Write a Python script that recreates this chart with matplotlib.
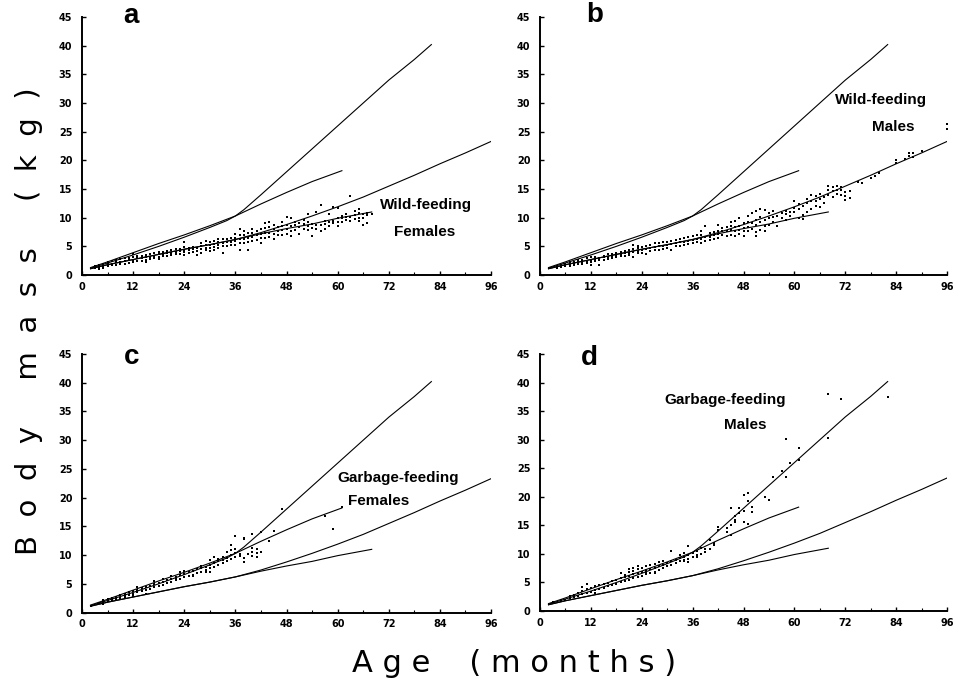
import numpy as np
import matplotlib
matplotlib.use("Agg")
import matplotlib.pyplot as plt
from matplotlib.ticker import MultipleLocator

plt.rcParams['font.family'] = ['Liberation Sans', 'DejaVu Sans']

# fitted growth curves (age in months, mass in kg), same in every panel
gm_age = [2, 6, 12, 18, 24, 30, 34, 36, 38, 40, 42, 45, 48, 54, 60, 66, 72, 78, 82]
gm_mass = [1.2, 2.1, 3.5, 5.0, 6.6, 8.3, 9.5, 10.3, 11.4, 12.7, 14.0, 16.0, 18.0, 22.0,
           26.0, 30.0, 34.0, 37.6, 40.2]
gf_age = [2, 6, 12, 18, 24, 30, 36, 42, 48, 54, 61]
gf_mass = [1.3, 2.3, 3.9, 5.5, 7.0, 8.6, 10.3, 12.4, 14.4, 16.3, 18.2]
wm_age = [2, 6, 12, 18, 24, 30, 36, 42, 48, 54, 60, 66, 72, 78, 84, 90, 96]
wm_mass = [1.1, 1.8, 2.7, 3.6, 4.5, 5.3, 6.2, 7.4, 8.8, 10.3, 11.9, 13.6, 15.5, 17.4, 19.4, 21.3, 23.3]
wf_age = [2, 6, 12, 18, 24, 30, 36, 42, 48, 54, 60, 68]
wf_mass = [1.1, 1.8, 2.7, 3.6, 4.5, 5.3, 6.2, 7.2, 8.1, 8.9, 9.9, 11.0]

# panel a: wild-feeding females
a_age = [3, 3, 4, 4, 4, 5, 5, 5, 6, 6, 6, 7, 7, 7, 8, 8, 8, 9, 9, 9, 10, 10, 10,
         11, 11, 11, 12, 12, 12, 12, 13, 13, 13, 14, 14, 14, 15, 15, 15, 15,
         16, 16, 16, 17, 17, 17, 18, 18, 18, 18, 19, 19, 19, 20, 20, 20,
         21, 21, 21, 22, 22, 22, 23, 23, 23, 24, 24, 24, 24, 24, 25, 25, 25,
         26, 26, 26, 27, 27, 27, 28, 28, 28, 28, 29, 29, 29, 29, 30, 30, 30, 30,
         31, 31, 31, 31, 32, 32, 32, 32, 33, 33, 33, 33, 34, 34, 34, 35, 35, 35,
         36, 36, 36, 36, 37, 37, 37, 37, 37, 38, 38, 38, 38, 39, 39, 39, 39,
         40, 40, 40, 40, 41, 41, 41, 42, 42, 42, 42, 43, 43, 43, 43, 44, 44, 44, 44,
         45, 45, 45, 45, 46, 46, 46, 47, 47, 47, 47, 48, 48, 48, 48, 49, 49, 49, 49,
         50, 50, 50, 51, 51, 51, 52, 52, 52, 53, 53, 53, 53, 54, 54, 54,
         55, 55, 55, 56, 56, 56, 57, 57, 57, 58, 58, 58, 59, 59, 59,
         60, 60, 60, 60, 61, 61, 61, 62, 62, 62, 63, 63, 63, 64, 64, 64,
         65, 65, 65, 65, 66, 66, 66, 67, 67, 67, 68]
a_mass = [1.2, 1.5, 1.0, 1.4, 1.7, 1.3, 1.6, 2.0, 1.5, 1.9, 2.2, 1.7, 2.0, 2.4, 1.8, 2.2, 2.6,
          1.9, 2.3, 2.8, 2.0, 2.5, 2.9, 2.1, 2.6, 3.0, 2.2, 2.7, 3.2, 3.6, 2.4, 2.9, 3.3,
          2.5, 3.0, 3.4, 2.2, 2.7, 3.1, 3.5, 2.8, 3.2, 3.6, 2.9, 3.3, 3.8, 2.8, 3.2, 3.6, 4.0,
          3.3, 3.7, 4.0, 3.4, 3.8, 4.2, 3.5, 3.9, 4.3, 3.6, 4.0, 4.5, 3.7, 4.2, 4.6,
          3.5, 4.0, 4.4, 4.9, 5.8, 3.9, 4.3, 4.7, 4.0, 4.5, 4.9, 3.5, 4.2, 4.7,
          3.8, 4.5, 5.0, 5.5, 4.3, 4.8, 5.3, 5.9, 4.2, 4.7, 5.2, 5.7,
          4.4, 4.9, 5.4, 6.0, 4.7, 5.2, 5.7, 6.3, 3.9, 5.0, 5.6, 6.2, 5.1, 5.7, 6.3, 5.2, 5.8, 6.4,
          5.2, 5.9, 6.5, 7.2, 4.4, 5.6, 6.3, 7.0, 8.1, 5.5, 6.2, 6.9, 7.6, 4.4, 5.8, 6.5, 7.3,
          5.9, 6.6, 7.3, 8.0, 6.1, 6.9, 7.6, 5.6, 6.4, 7.2, 8.0, 6.5, 7.3, 8.2, 9.0, 6.6, 7.4, 8.3, 9.2,
          6.3, 7.2, 8.0, 8.8, 6.9, 7.6, 8.4, 7.0, 7.8, 8.6, 9.3, 7.2, 8.0, 8.8, 10.2, 6.8, 7.6, 8.5, 9.9,
          7.8, 8.7, 9.3, 7.2, 8.3, 9.1, 8.0, 8.9, 9.6, 7.8, 8.5, 9.2, 10.7, 6.8, 8.2, 8.9,
          8.0, 8.7, 11.0, 7.6, 8.7, 12.3, 8.1, 8.9, 9.4, 8.6, 9.2, 10.6, 9.0, 9.5, 11.8,
          8.6, 9.3, 9.9, 11.7, 9.2, 9.9, 10.3, 9.6, 10.1, 10.7, 9.5, 10.2, 13.8, 9.8, 10.4, 11.2,
          9.4, 10.0, 10.9, 11.6, 8.8, 9.9, 10.6, 9.0, 10.5, 10.9, 10.7]

# panel b: wild-feeding males
b_age = [4, 4, 5, 5, 6, 6, 6, 7, 7, 7, 8, 8, 8, 9, 9, 9, 10, 10, 10, 11, 11, 11,
         12, 12, 12, 12, 13, 13, 13, 14, 14, 14, 15, 15, 15, 16, 16, 16, 17, 17, 17,
         18, 18, 18, 19, 19, 19, 20, 20, 20, 21, 21, 21, 22, 22, 22, 22, 23, 23, 23, 23,
         24, 24, 24, 25, 25, 25, 26, 26, 26, 27, 27, 27, 28, 28, 28, 29, 29, 29,
         30, 30, 30, 31, 31, 31, 32, 32, 32, 33, 33, 33, 34, 34, 34, 35, 35, 35,
         36, 36, 36, 37, 37, 37, 38, 38, 38, 38, 39, 39, 39, 40, 40, 40, 41, 41, 41,
         42, 42, 42, 42, 43, 43, 43, 44, 44, 44, 45, 45, 45, 45, 46, 46, 46, 46,
         47, 47, 47, 47, 48, 48, 48, 48, 49, 49, 49, 49, 50, 50, 50,
         51, 51, 51, 51, 51, 52, 52, 52, 52, 53, 53, 53, 53, 54, 54, 54, 55, 55, 55,
         56, 56, 57, 57, 58, 58, 58, 59, 59, 60, 60, 60, 61, 61, 61, 62, 62, 62,
         63, 63, 63, 64, 64, 64, 65, 65, 65, 66, 66, 66, 67, 67, 68, 68, 68,
         69, 69, 69, 70, 70, 70, 71, 71, 71, 72, 72, 72, 73, 73, 75, 76, 78, 79, 80,
         84, 84, 86, 87, 87, 88, 88, 90, 96, 96]
b_mass = [1.3, 1.5, 1.4, 1.7, 1.5, 1.8, 2.0, 1.6, 1.9, 2.2, 1.7, 2.0, 2.3, 1.9, 2.2, 2.6,
          2.0, 2.3, 2.7, 2.1, 2.5, 2.9, 1.8, 2.3, 2.7, 3.1, 2.4, 2.8, 3.2, 1.8, 2.6, 3.0,
          2.7, 3.1, 3.4, 2.8, 3.2, 3.6, 3.0, 3.4, 3.7, 3.1, 3.5, 3.9, 3.3, 3.7, 4.0,
          3.4, 3.8, 4.2, 3.5, 3.9, 4.4, 3.2, 4.0, 4.6, 5.2, 3.8, 4.2, 4.8, 5.1,
          3.9, 4.4, 4.9, 3.7, 4.5, 5.0, 4.2, 4.7, 5.2, 4.3, 4.9, 5.5, 4.4, 5.0, 5.6,
          4.5, 5.1, 5.7, 4.7, 5.3, 5.8, 4.4, 5.4, 6.0, 5.0, 5.6, 6.1, 5.1, 5.7, 6.2,
          5.2, 5.8, 6.4, 5.4, 6.0, 6.6, 5.5, 6.1, 6.8, 5.7, 6.3, 6.9, 5.5, 6.2, 6.9, 7.6,
          6.0, 6.6, 8.5, 6.1, 6.7, 7.3, 6.2, 6.9, 7.5, 6.4, 7.1, 7.7, 8.8, 7.0, 7.6, 8.2,
          6.8, 7.6, 8.3, 7.0, 7.8, 8.6, 9.2, 6.8, 7.6, 8.4, 9.4, 7.2, 7.9, 8.5, 10.0,
          6.8, 7.6, 8.2, 9.0, 7.6, 8.4, 9.2, 10.3, 8.0, 9.0, 10.8,
          6.8, 7.5, 8.8, 9.6, 11.2, 7.8, 9.3, 10.2, 11.5, 7.6, 8.5, 9.6, 11.3, 8.8, 9.9, 10.8,
          9.2, 10.1, 11.2, 8.5, 10.3, 10.0, 10.9, 9.6, 10.6, 11.1, 10.3, 11.0,
          11.0, 11.7, 13.0, 10.0, 11.5, 12.4, 9.8, 10.4, 12.0, 11.0, 12.5, 13.2,
          11.6, 13.0, 14.0, 12.0, 12.9, 13.7, 11.8, 13.2, 14.2, 12.5, 13.6, 13.9, 14.8, 15.5,
          13.6, 14.7, 15.4, 14.2, 14.9, 15.6, 14.0, 14.8, 15.3, 13.8, 14.5, 13.1, 14.6, 13.5,
          16.3, 16.1, 17.0, 17.3, 17.8, 19.5, 20.0, 20.3, 20.8, 21.2, 21.3, 20.6, 21.6,
          25.5, 26.3]

# panel c: garbage-feeding females
c_age = [2, 4, 5, 5, 5, 6, 6, 7, 7, 8, 8, 8, 9, 9, 10, 10, 10, 11, 11, 12, 12, 12,
         13, 13, 13, 14, 14, 15, 15, 15, 16, 16, 17, 17, 17, 18, 18, 19, 19, 19,
         20, 20, 21, 21, 21, 22, 22, 22, 23, 23, 23, 24, 24, 24, 25, 25, 26, 26, 26,
         27, 27, 28, 28, 28, 29, 29, 29, 30, 30, 30, 30, 31, 31, 31, 32, 32, 32,
         33, 33, 33, 34, 34, 34, 35, 35, 35, 35, 36, 36, 36, 36, 37, 37,
         38, 38, 38, 38, 39, 40, 40, 40, 40, 41, 41, 41, 42, 42, 44, 45, 47, 57, 59, 61]
c_mass = [1.2, 1.6, 1.9, 2.1, 1.5, 2.0, 2.3, 2.1, 2.5, 2.4, 2.7, 2.2, 2.6, 3.1,
          2.9, 3.3, 2.5, 3.0, 3.5, 3.3, 3.7, 2.8, 3.5, 4.0, 4.4, 3.7, 4.2, 3.9, 4.5, 3.3,
          4.1, 4.6, 4.4, 5.0, 5.5, 4.6, 5.1, 4.8, 5.3, 5.8, 5.1, 5.6, 5.3, 5.9, 6.3,
          5.6, 6.2, 5.9, 5.9, 6.5, 7.0, 6.1, 6.7, 7.2, 6.4, 7.0, 6.5, 7.2, 6.4,
          6.9, 7.5, 7.1, 7.8, 8.1, 7.4, 8.0, 7.0, 7.7, 8.3, 9.1, 7.0, 8.0, 8.7, 9.6,
          8.2, 8.9, 9.3, 8.6, 9.1, 9.6, 8.9, 9.5, 10.6, 9.3, 10.0, 11.8, 10.8,
          9.7, 10.3, 13.4, 11.0, 10.2, 9.8, 8.8, 9.5, 12.8, 13.0, 10.2,
          9.8, 10.5, 11.2, 13.6, 9.7, 10.3, 11.0, 10.6, 14.0, 12.5, 14.2, 18.0, 16.8, 14.5, 18.3]

# panel d: garbage-feeding males
d_age = [3, 3, 5, 5, 6, 7, 7, 8, 8, 9, 9, 10, 10, 10, 11, 11, 11, 12, 12, 13, 13, 13,
         14, 14, 15, 15, 16, 16, 17, 17, 18, 18, 19, 19, 19, 20, 20, 20,
         21, 21, 21, 21, 22, 22, 22, 22, 23, 23, 23, 23, 24, 24, 24, 25, 25, 25, 25,
         26, 26, 26, 27, 27, 27, 27, 28, 28, 28, 29, 29, 29, 30, 30, 31, 31, 31,
         32, 32, 33, 33, 33, 34, 34, 34, 34, 35, 35, 35, 35, 36, 36, 37, 37, 37,
         38, 38, 39, 39, 40, 40, 41, 41, 42, 42, 44, 44, 45, 45, 45, 46, 46, 46,
         47, 47, 48, 48, 48, 49, 49, 49, 50, 50, 53, 54, 55, 57, 58, 58, 59, 61, 61,
         68, 68, 71, 82]
d_mass = [1.5, 1.6, 1.8, 2.0, 2.0, 2.2, 2.6, 2.5, 2.8, 2.7, 3.1, 3.0, 3.5, 4.2,
          3.2, 3.8, 4.7, 3.4, 4.0, 3.7, 4.3, 3.2, 3.9, 4.5, 4.1, 4.7, 4.3, 4.9,
          4.6, 5.2, 4.8, 5.5, 5.0, 5.7, 6.6, 5.3, 5.9, 6.3,
          5.5, 6.2, 6.8, 7.4, 5.8, 6.4, 7.0, 7.6, 6.0, 6.7, 7.3, 7.9, 6.2, 6.9, 7.5,
          6.4, 7.1, 7.8, 6.8, 6.6, 7.3, 8.0, 6.9, 7.6, 8.3, 6.6, 7.2, 7.8, 8.5,
          7.5, 8.1, 8.8, 7.8, 8.4, 8.1, 8.7, 10.6, 8.4, 9.0, 8.7, 9.3, 9.8,
          8.9, 9.5, 10.1, 8.7, 9.2, 9.8, 11.4, 8.5, 9.5, 10.1, 9.8, 10.6, 9.5,
          10.0, 11.0, 10.3, 10.9, 10.8, 12.5, 11.5, 12.0, 14.2, 14.8, 13.8, 14.6,
          15.0, 18.0, 13.3, 15.6, 16.7, 15.9, 18.0, 17.2, 15.6, 17.5, 20.3,
          20.7, 19.3, 15.2, 18.3, 17.3, 20.0, 19.5, 23.4, 24.6, 30.2, 23.4, 26.0,
          28.6, 26.5, 38.0, 30.3, 37.2, 37.5]

panels = [
    ('a', (11.5, 45.2), a_age, a_mass, 'Wild-feeding', 'Females', (80.7, 12.2), (80.4, 7.5)),
    ('b', (13.0, 45.3), b_age, b_mass, 'Wild-feeding', 'Males', (80.4, 30.5), (83.3, 25.8)),
    ('c', (11.6, 44.5), c_age, c_mass, 'Garbage-feeding', 'Females', (74.2, 23.4), (69.7, 19.5)),
    ('d', (11.6, 44.3), d_age, d_mass, 'Garbage-feeding', 'Males', (43.6, 36.9), (48.4, 32.6)),
]
positions = [
    [0.0858, 0.5985, 0.4278, 0.3766],
    [0.5649, 0.5985, 0.4257, 0.3766],
    [0.0858, 0.1058, 0.4278, 0.3774],
    [0.5649, 0.1080, 0.4257, 0.3750],
]

fig = plt.figure(figsize=(9.56, 6.85), dpi=100)

for (letter, lpos, ages, masses, lab1, lab2, p1, p2), pos in zip(panels, positions):
    ax = fig.add_axes(pos)
    for xs, ys in [(gm_age, gm_mass), (gf_age, gf_mass), (wm_age, wm_mass), (wf_age, wf_mass)]:
        ax.plot(xs, ys, color='black', lw=0.8)
    ax.scatter(ages, masses, s=4, marker='s', color='black', linewidths=0)

    ax.set_xlim(0, 96)
    ax.set_ylim(0, 45)
    ax.xaxis.set_major_locator(MultipleLocator(12))
    ax.xaxis.set_minor_locator(MultipleLocator(6))
    ax.yaxis.set_major_locator(MultipleLocator(5))
    for side in ['top', 'right']:
        ax.spines[side].set_visible(False)
    for side in ['left', 'bottom']:
        ax.spines[side].set_linewidth(1.4)
    ax.tick_params(which='major', direction='in', length=3, width=1, labelsize=7, pad=5)
    ax.tick_params(which='minor', direction='in', length=2, width=0.8)
    ax.tick_params(axis='y', which='major', pad=7)
    for t in ax.get_xticklabels() + ax.get_yticklabels():
        t.set_fontweight('bold')
        t.set_family('DejaVu Sans')

    ax.text(lpos[0], lpos[1], letter, fontsize=20, fontweight='bold', ha='center',
            va='center', clip_on=False)
    ax.text(p1[0], p1[1], lab1, fontsize=11, fontweight='bold', ha='center', va='center')
    ax.text(p2[0], p2[1], lab2, fontsize=11, fontweight='bold', ha='center', va='center')

fig.text(0.030, 0.531, 'B  o  d  y     m  a  s  s     (  k  g  )', rotation=90, fontsize=21,
         family='DejaVu Sans', ha='center', va='center')
fig.text(0.538, 0.032, 'A g e    ( m o n t h s )', fontsize=22, family='DejaVu Sans',
         ha='center', va='center')

fig.savefig('out.png', dpi=100)
